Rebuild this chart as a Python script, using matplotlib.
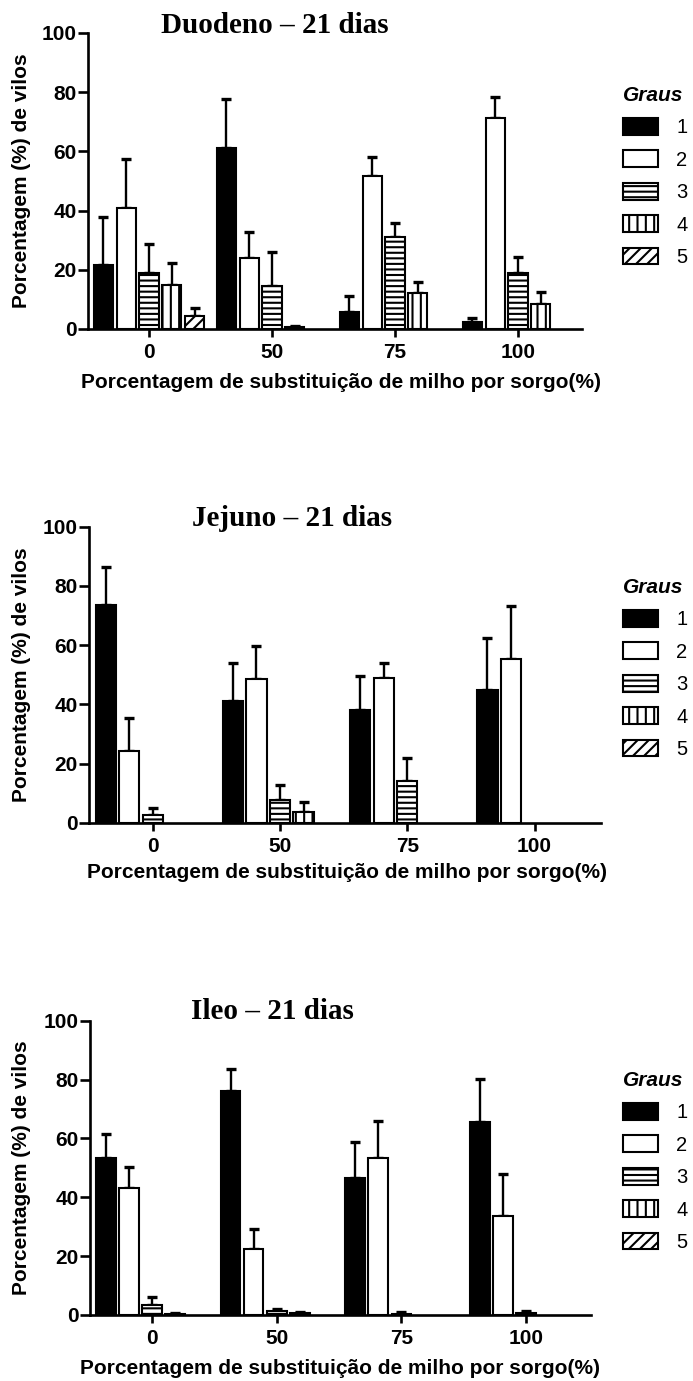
import matplotlib
matplotlib.use("Agg")
import matplotlib.pyplot as plt
from matplotlib.patches import Patch
import numpy as np

plt.rcParams["font.family"] = ["Liberation Sans", "DejaVu Sans"]
plt.rcParams["hatch.linewidth"] = 1.5

# ── Data ────────────────────────────────────────────────────────────────────
groups = ["0", "50", "75", "100"]
grades = ["1", "2", "3", "4", "5"]

# rows = grades 1..5, columns = 0, 50, 75, 100 (% sorgo)
duo_mean = [[21.6, 61.0, 5.9, 2.5],
            [40.9, 24.0, 51.7, 71.2],
            [18.9, 14.6, 31.0, 19.0],
            [14.9, 0.8, 12.0, 8.4],
            [4.4, 0.0, 0.0, 0.0]]
duo_top = [[37.8, 77.6, 11.3, 3.8],
           [57.4, 32.8, 58.2, 78.3],
           [28.7, 26.0, 35.9, 24.3],
           [22.2, 1.0, 16.0, 12.5],
           [7.0, 0.0, 0.0, 0.0]]

jej_mean = [[73.5, 41.2, 38.1, 44.8],
            [24.3, 48.4, 48.8, 55.3],
            [2.6, 7.7, 14.1, 0.0],
            [0.0, 3.7, 0.0, 0.0],
            [0.0, 0.0, 0.0, 0.0]]
jej_top = [[86.3, 54.0, 49.6, 62.3],
           [35.3, 59.7, 53.8, 73.3],
           [4.9, 12.6, 21.7, 0.0],
           [0.0, 7.1, 0.0, 0.0],
           [0.0, 0.0, 0.0, 0.0]]

ile_mean = [[53.2, 76.1, 46.4, 65.7],
            [43.1, 22.5, 53.2, 33.6],
            [3.4, 1.3, 0.4, 0.8],
            [0.5, 0.6, 0.0, 0.0],
            [0.0, 0.0, 0.0, 0.0]]
ile_top = [[61.4, 83.5, 58.9, 80.1],
           [50.2, 29.1, 66.0, 47.9],
           [6.2, 2.2, 1.0, 1.4],
           [0.8, 1.0, 0.0, 0.0],
           [0.0, 0.0, 0.0, 0.0]]

titles = ["Duodeno \u2013 21 dias", "Jejuno \u2013 21 dias", "Ileo \u2013 21 dias"]

# ── Style ───────────────────────────────────────────────────────────────────
faces = ["black", "white", "white", "white", "white"]
hatches = [None, None, "---", "||", "///"]
STEP = 0.185
BW = 0.158
XLIM = (-0.5, 3.52)

W, H = 693, 1381
fig = plt.figure(figsize=(W / 100, H / 100), dpi=100)


def px_axes(g0, spacing, top, bottom):
    l = g0 + XLIM[0] * spacing
    w = (XLIM[1] - XLIM[0]) * spacing
    return fig.add_axes([l / W, 1 - bottom / H, w / W, (bottom - top) / H]), l, w


def draw(ax, means, tops):
    x = np.arange(len(groups))
    for j in range(len(grades)):
        xs = x + (j - 2) * STEP
        for i in range(len(groups)):
            m = means[j][i]
            if m <= 0:
                continue
            ax.bar(xs[i], m, width=BW, facecolor=faces[j], edgecolor="black",
                   linewidth=1.5, hatch=hatches[j], zorder=2)
            e = tops[j][i] - m
            if e > 0:
                ax.errorbar(xs[i], m, yerr=[[0], [e]], fmt="none", ecolor="black",
                            elinewidth=1.7, capsize=3.6, capthick=2.4, zorder=1)
    ax.set_xlim(*XLIM)
    ax.set_ylim(0, 100)
    ax.set_yticks([0, 20, 40, 60, 80, 100])
    ax.set_xticks(x)
    ax.set_xticklabels(groups)
    for s in ["top", "right"]:
        ax.spines[s].set_visible(False)
    for s in ["left", "bottom"]:
        ax.spines[s].set_linewidth(1.9)
    ax.tick_params(axis="y", length=7, width=1.9, pad=1, labelsize=15)
    ax.tick_params(axis="x", length=6, width=1.9, pad=4, labelsize=15)
    for lab in ax.get_xticklabels() + ax.get_yticklabels():
        lab.set_fontweight("bold")


panels = [
    # g0 px, spacing, top px, bottom px, xlabel y, xlabel x, title x, title baseline, legend top
    (duo_mean, duo_top, 149, 123.0, 33, 329, 382, 341, 275, 33, 86),
    (jej_mean, jej_top, 152.7, 127.3, 526.7, 822.7, 873, 347, 292, 526, 578),
    (ile_mean, ile_top, 152, 124.7, 1020.7, 1315, 1368, 340, 272, 1019, 1071),
]

handles = [Patch(facecolor=faces[j], edgecolor="black", linewidth=1.5,
                 hatch=hatches[j]) for j in range(len(grades))]

for k, (mean, top, g0, sp, ytop, ybot, xly, xlx, tx, ty, lgy) in enumerate(panels):
    ax, l, w = px_axes(g0, sp, ytop, ybot)
    draw(ax, mean, top)
    ax.set_ylabel("Porcentagem (%) de vilos", fontsize=15, fontweight="bold")
    ax.yaxis.set_label_coords((22 - l) / w, 0.5)
    ax.yaxis.label.set_va("center")
    ax.set_xlabel("Porcentagem de substitui\u00e7\u00e3o de milho por sorgo(%)",
                  fontsize=15, fontweight="bold")
    ax.xaxis.set_label_coords((xlx - l) / w, -(xly - ybot) / (ybot - ytop))
    ax.xaxis.label.set_va("center")
    fig.text(tx / W, 1 - ty / H, titles[k], ha="center", va="baseline",
             fontsize=21, fontweight="bold",
             family=["Liberation Serif", "DejaVu Serif"])
    fig.legend(handles, grades, loc="upper left",
               bbox_to_anchor=(623 / W, 1 - lgy / H), frameon=False,
               fontsize=14.5, title="Graus", alignment="left",
               title_fontproperties={"weight": "bold", "style": "italic",
                                     "size": 15},
               handlelength=1.75, handleheight=0.9, handletextpad=0.9,
               labelspacing=0.65, borderpad=0, borderaxespad=0)

fig.savefig("out.png", dpi=100)
